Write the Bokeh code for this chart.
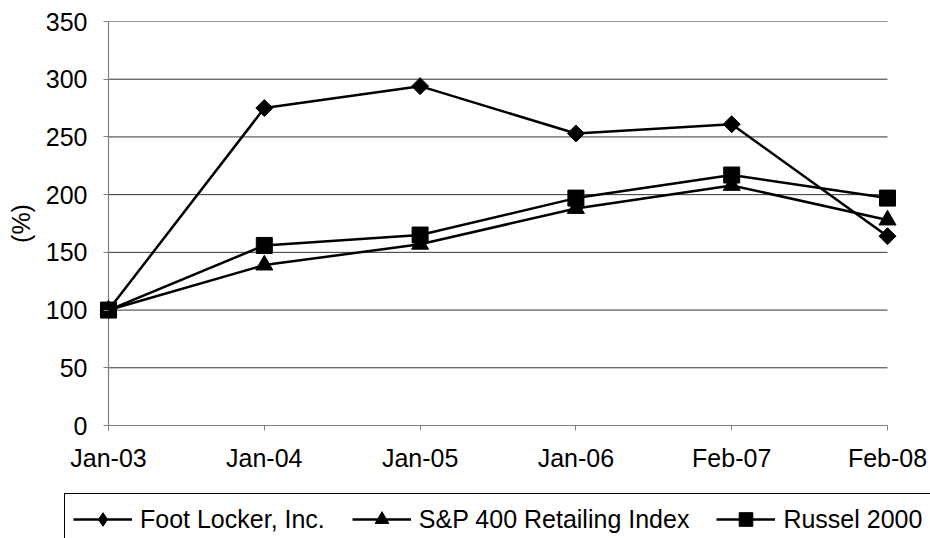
import math
from bokeh.plotting import figure
from bokeh.layouts import column
from bokeh.models import FixedTicker, Legend, LegendItem, Range1d
from bokeh.embed import file_html
from bokeh.resources import INLINE

dates = ["Jan-03", "Jan-04", "Jan-05", "Jan-06", "Feb-07", "Feb-08"]
foot_locker = [100, 275, 294, 253, 261, 164]
sp400_retail = [100, 139, 157, 188, 208, 178]
russell_2000 = [100, 156, 165, 197, 217, 197]
y_ticks = [0, 50, 100, 150, 200, 250, 300, 350]
series_names = ["Foot Locker, Inc.", "S&P 400 Retailing Index", "Russel 2000"]

FONT = "Liberation Sans"
FS = "25px"

xs = list(range(len(dates)))
last = len(dates) - 1
pad = 0.077

p = figure(width=930, height=485,
           x_range=Range1d(-pad, last + pad), y_range=Range1d(y_ticks[0], y_ticks[-1]),
           output_backend="svg", toolbar_location=None,
           min_border_left=96, min_border_right=31, min_border_top=21, min_border_bottom=60)
p.frame_align = False
p.outline_line_color = None
p.background_fill_color = "white"
p.border_fill_color = "white"
p.xgrid.visible = False
p.ygrid.visible = False

# horizontal gridlines spanning the category extent
grid_vals = y_ticks[1:]
p.segment(x0=[xs[0]] * len(grid_vals), y0=grid_vals, x1=[xs[-1]] * len(grid_vals), y1=grid_vals,
          line_color="#333333", line_width=1)
# value axis line at the first category
p.segment(x0=[xs[0]], y0=[y_ticks[0]], x1=[xs[0]], y1=[y_ticks[-1]],
          line_color="#808080", line_width=1.2)

p.line(xs, foot_locker, line_color="black", line_width=2.5)
p.scatter(xs, foot_locker, marker="square", angle=math.pi / 4, size=12, color="black")
p.line(xs, sp400_retail, line_color="black", line_width=2.5)
p.scatter(xs, sp400_retail, marker="triangle", size=17, color="black")
p.line(xs, russell_2000, line_color="black", line_width=2.5)
p.scatter(xs, russell_2000, marker="square", size=16, color="black")

# x axis
xa = p.xaxis[0]
xa.ticker = FixedTicker(ticks=xs)
xa.bounds = (xs[0], xs[-1])
xa.major_label_overrides = {i: d for i, d in zip(xs, dates)}
xa.minor_tick_line_color = None
xa.major_tick_in = 0
xa.major_tick_out = 5
xa.axis_line_color = "#808080"
xa.axis_line_width = 1.2
xa.major_tick_line_color = "#808080"
xa.major_label_text_font = FONT
xa.major_label_text_font_size = FS
xa.major_label_text_color = "black"
xa.major_label_standoff = 13

# y axis (frame is padded by 12px, ticks shifted onto the value axis line)
ya = p.yaxis[0]
ya.ticker = FixedTicker(ticks=y_ticks)
ya.bounds = (y_ticks[0], 371)
ya.minor_tick_line_color = None
ya.axis_line_color = None
ya.major_tick_in = 12
ya.major_tick_out = -7
ya.major_tick_line_color = "#808080"
ya.major_label_text_font = FONT
ya.major_label_text_font_size = FS
ya.major_label_text_color = "black"
ya.major_label_standoff = 9
ya.axis_label = "(%)"
ya.axis_label_text_font = FONT
ya.axis_label_text_font_size = FS
ya.axis_label_text_font_style = "normal"
ya.axis_label_text_color = "black"
ya.axis_label_standoff = 8

# legend strip below the chart
leg = figure(width=930, height=53, output_backend="svg", toolbar_location=None,
             x_axis_location=None, y_axis_location=None,
             min_border_left=0, min_border_right=0, min_border_top=0, min_border_bottom=0)
leg.frame_align = False
leg.outline_line_color = None
leg.xgrid.visible = False
leg.ygrid.visible = False
leg.border_fill_color = "white"
leg.background_fill_color = "white"

items = []
for name, vals, marker, in zip(series_names, [foot_locker, sp400_retail, russell_2000],
                                ["diamond", "triangle", "square"]):
    lr = leg.line(xs, vals, line_color="black", line_width=2.5, visible=False)
    mr = leg.scatter(xs, vals, marker=marker, color="black", visible=False)
    items.append(LegendItem(label=name, renderers=[lr, mr]))

legend = Legend(items=items, orientation="horizontal", location=(64, -7),
                glyph_width=59, glyph_height=34, label_standoff=8, spacing=27,
                padding=8, margin=0,
                border_line_color="black", border_line_width=1, border_line_alpha=1,
                background_fill_color="white", background_fill_alpha=1,
                label_text_font=FONT, label_text_font_size=FS, label_text_color="black")
leg.add_layout(legend, "center")

layout = column(p, leg, spacing=0)
open("out.html", "w").write(file_html(layout, INLINE))
